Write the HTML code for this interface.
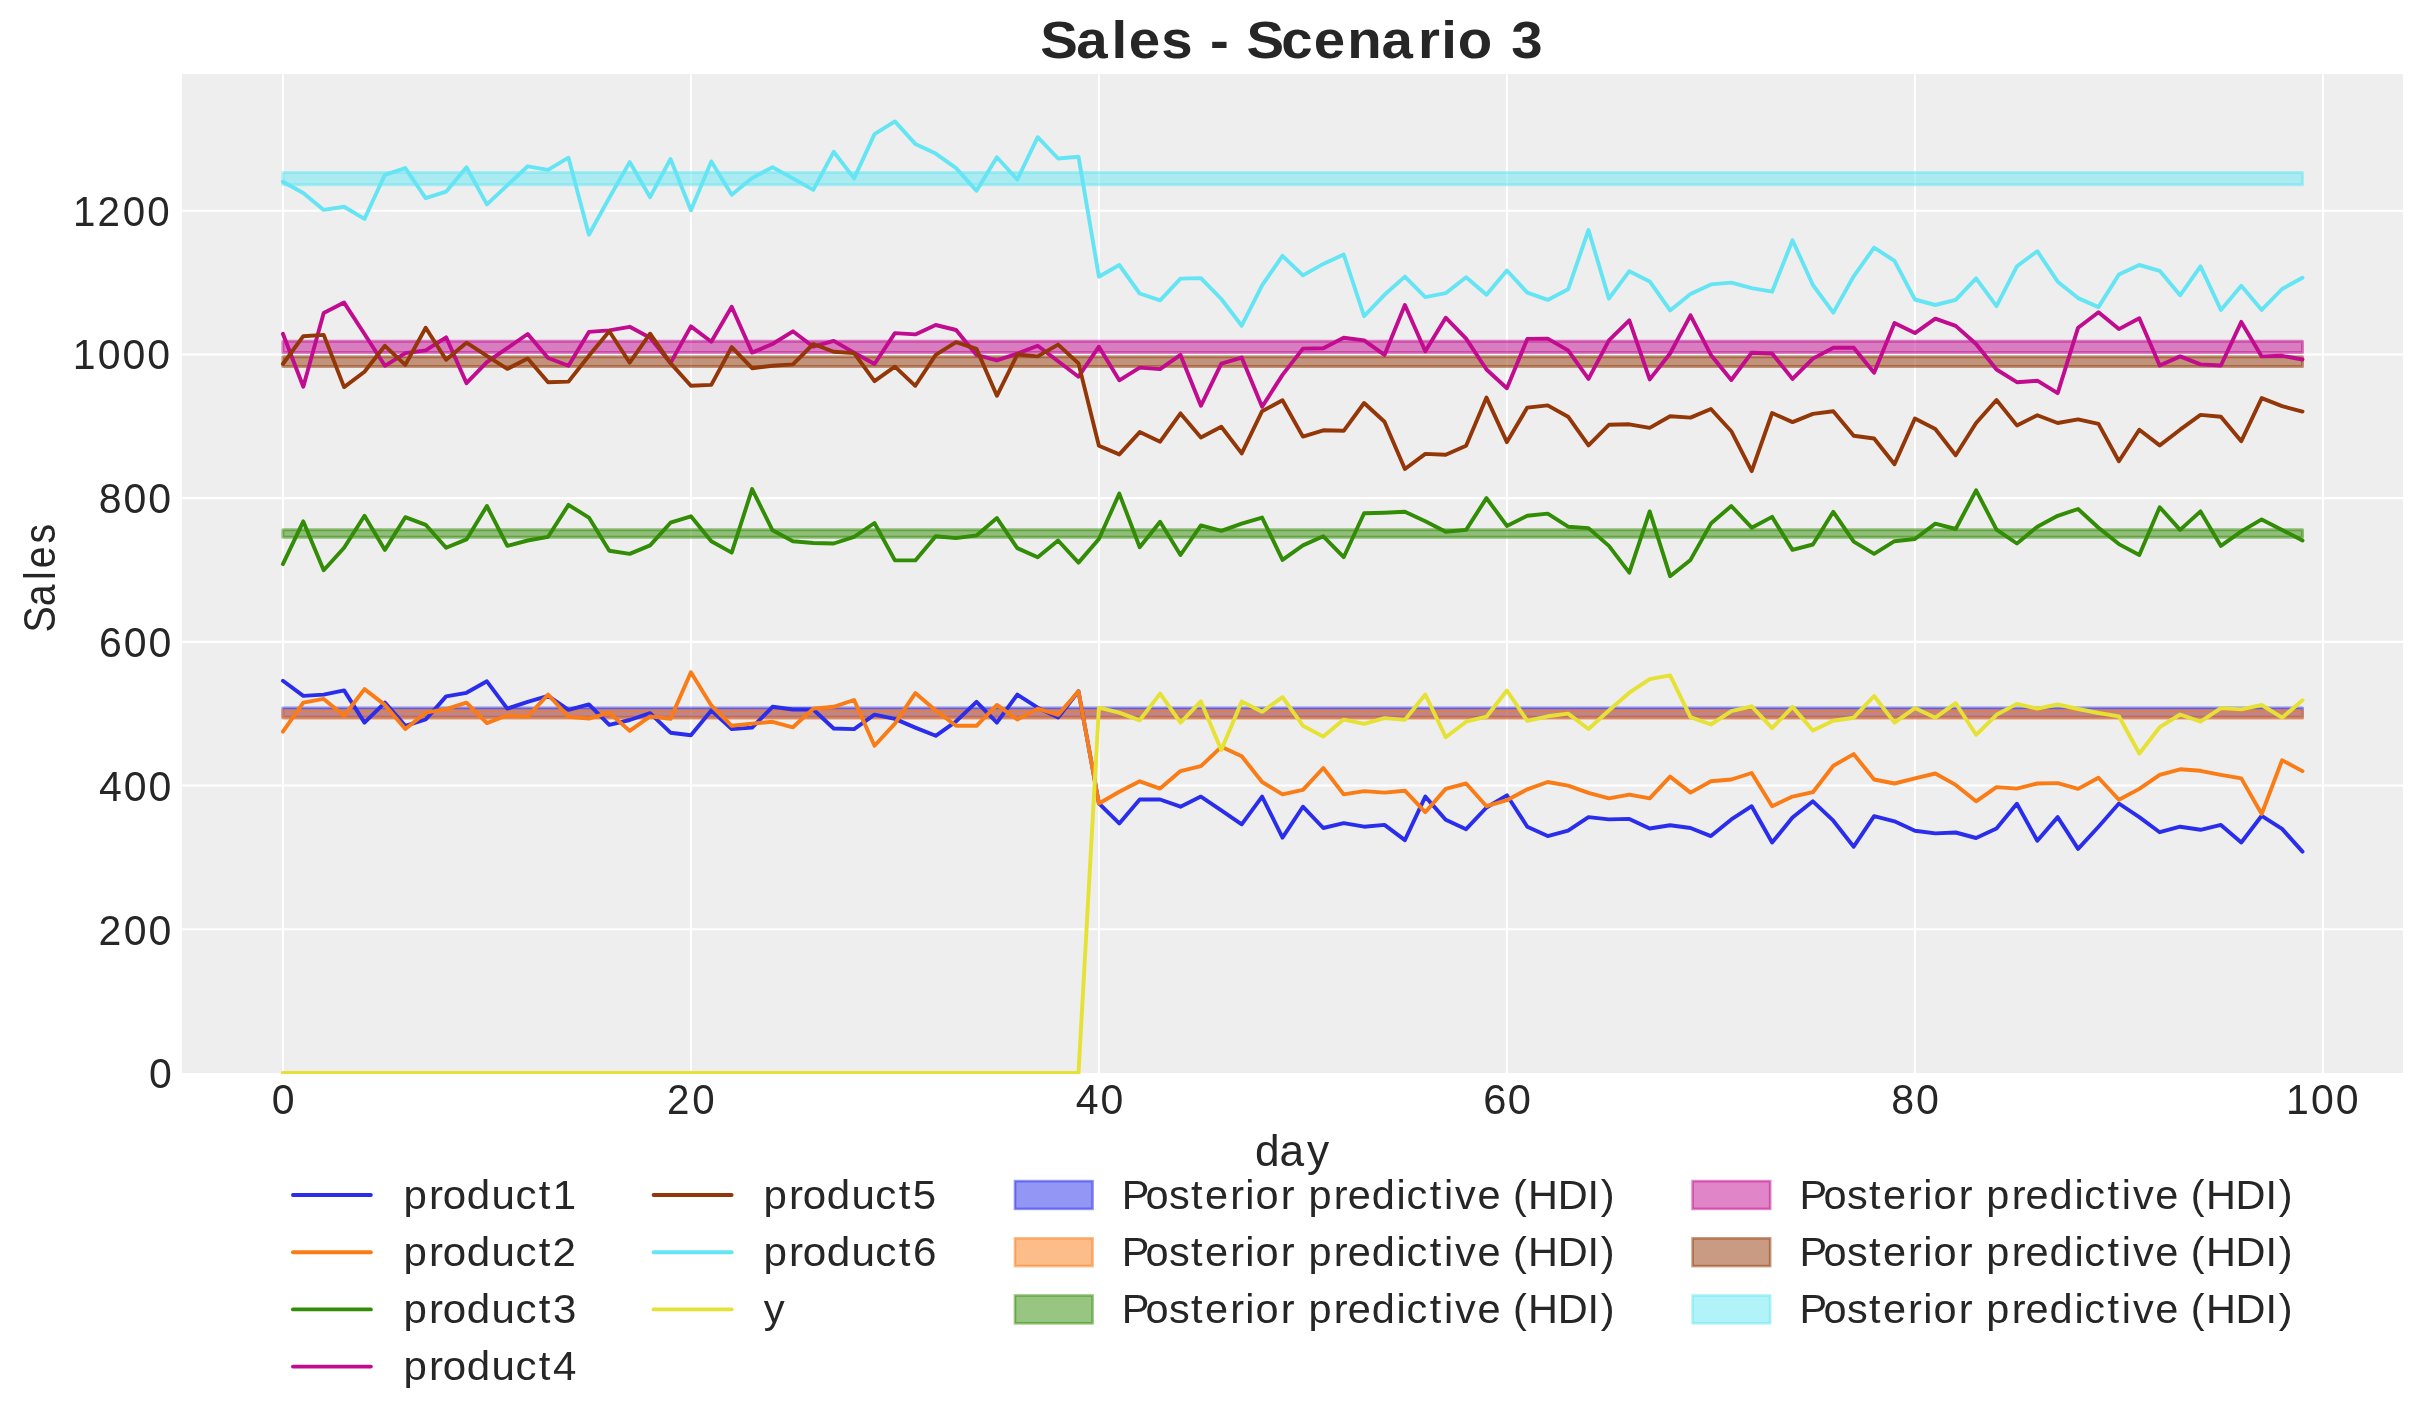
<!DOCTYPE html>
<html><head><meta charset="utf-8"><title>Sales - Scenario 3</title>
<style>html,body{margin:0;padding:0;background:#fff;}svg{display:block;will-change:transform;font-family:"Liberation Sans",sans-serif;}</style>
</head><body>
<svg width="2423" height="1424" viewBox="0 0 2423 1424">
<rect x="0" y="0" width="2423" height="1424" fill="#ffffff"/>
<rect x="182" y="74" width="2221" height="999" fill="#eeeeee"/>
<path d="M282.90 74V1073M690.90 74V1073M1098.90 74V1073M1506.90 74V1073M1914.90 74V1073M2322.90 74V1073M182 929.22H2403M182 785.53H2403M182 641.85H2403M182 498.16H2403M182 354.48H2403M182 210.80H2403" stroke="#ffffff" stroke-width="2.1" fill="none"/>
<path d="M282.90 708.1H2302.50V717.2H282.90Z" fill="#2a2eec" fill-opacity="0.5" stroke="#2a2eec" stroke-opacity="0.5" stroke-width="3.0" stroke-linejoin="round"/>
<path d="M282.90 710.55H2302.50V718.3H282.90Z" fill="#fa7c17" fill-opacity="0.5" stroke="#fa7c17" stroke-opacity="0.5" stroke-width="3.0" stroke-linejoin="round"/>
<path d="M282.90 529.65H2302.50V537.25H282.90Z" fill="#328c06" fill-opacity="0.5" stroke="#328c06" stroke-opacity="0.5" stroke-width="3.0" stroke-linejoin="round"/>
<path d="M282.90 341.3H2302.50V352.55H282.90Z" fill="#c10c90" fill-opacity="0.5" stroke="#c10c90" stroke-opacity="0.5" stroke-width="3.0" stroke-linejoin="round"/>
<path d="M282.90 356.65H2302.50V366.45H282.90Z" fill="#933708" fill-opacity="0.5" stroke="#933708" stroke-opacity="0.5" stroke-width="3.0" stroke-linejoin="round"/>
<path d="M282.90 172.55H2302.50V184.75H282.90Z" fill="#65e5f3" fill-opacity="0.5" stroke="#65e5f3" stroke-opacity="0.5" stroke-width="3.0" stroke-linejoin="round"/>
<clipPath id="ax"><rect x="182" y="74" width="2221" height="1000"/></clipPath>
<g clip-path="url(#ax)">
<polyline points="282.9,680.8 303.3,695.9 323.7,694.6 344.1,690.4 364.5,722.6 384.9,702.6 405.3,725.8 425.7,719.5 446.1,696.4 466.5,692.8 486.9,681.3 507.3,708.6 527.7,701.9 548.1,695.9 568.5,709.8 588.9,704.4 609.3,724.9 629.7,720.0 650.1,713.1 670.5,732.7 690.9,735.3 711.3,710.4 731.7,729.1 752.1,727.6 772.5,706.8 792.9,709.5 813.3,709.5 833.7,728.5 854.1,729.1 874.5,714.6 894.9,718.9 915.3,727.6 935.7,735.8 956.1,721.3 976.5,701.9 996.9,722.6 1017.3,694.6 1037.7,707.7 1058.1,717.6 1078.5,691.3 1098.9,803.3 1119.3,823.4 1139.7,799.5 1160.1,799.5 1180.5,806.7 1200.9,796.6 1221.3,810.4 1241.7,824.3 1262.1,796.6 1282.5,837.6 1302.9,806.7 1323.3,828.0 1343.7,823.1 1364.1,826.7 1384.5,824.9 1404.9,840.1 1425.3,796.6 1445.7,819.8 1466.1,829.2 1486.5,807.5 1506.9,795.3 1527.3,826.7 1547.7,836.1 1568.1,830.7 1588.5,817.1 1608.9,819.4 1629.3,818.9 1649.7,828.5 1670.1,825.3 1690.5,828.0 1710.9,836.1 1731.3,819.4 1751.7,806.2 1772.1,842.5 1792.5,817.6 1812.9,801.3 1833.3,820.7 1853.7,846.7 1874.1,816.2 1894.5,821.3 1914.9,830.7 1935.3,833.4 1955.7,832.5 1976.1,838.0 1996.5,828.5 2016.9,803.8 2037.3,840.7 2057.7,817.1 2078.1,848.9 2098.5,826.7 2118.9,803.5 2139.3,817.1 2159.7,832.2 2180.1,826.7 2200.5,829.8 2220.9,824.9 2241.3,842.5 2261.7,815.8 2282.1,828.9 2302.5,851.6" fill="none" stroke="#2a2eec" stroke-width="3.9" stroke-linejoin="round" stroke-linecap="round"/>
<polyline points="282.9,731.6 303.3,702.6 323.7,698.9 344.1,715.8 364.5,689.1 384.9,704.9 405.3,729.1 425.7,712.7 446.1,709.1 466.5,702.6 486.9,723.1 507.3,715.3 527.7,716.4 548.1,694.6 568.5,716.7 588.9,718.6 609.3,712.7 629.7,730.9 650.1,716.4 670.5,718.9 690.9,672.3 711.3,705.5 731.7,725.8 752.1,723.6 772.5,721.8 792.9,727.3 813.3,708.6 833.7,706.8 854.1,700.0 874.5,745.8 894.9,723.6 915.3,693.1 935.7,710.4 956.1,725.8 976.5,725.8 996.9,704.9 1017.3,719.5 1037.7,708.6 1058.1,714.9 1078.5,691.3 1098.9,803.5 1119.3,791.7 1139.7,781.3 1160.1,788.6 1180.5,771.1 1200.9,766.2 1221.3,746.8 1241.7,756.2 1262.1,782.0 1282.5,794.4 1302.9,789.8 1323.3,768.0 1343.7,794.4 1364.1,791.1 1384.5,792.6 1404.9,790.7 1425.3,812.2 1445.7,788.9 1466.1,783.5 1486.5,806.2 1506.9,800.2 1527.3,789.3 1547.7,782.0 1568.1,785.7 1588.5,792.9 1608.9,798.4 1629.3,794.7 1649.7,798.4 1670.1,776.6 1690.5,792.6 1710.9,781.3 1731.3,779.5 1751.7,773.0 1772.1,806.2 1792.5,796.6 1812.9,792.2 1833.3,765.7 1853.7,754.1 1874.1,779.5 1894.5,783.5 1914.9,778.4 1935.3,773.5 1955.7,784.9 1976.1,801.3 1996.5,787.1 2016.9,788.6 2037.3,783.5 2057.7,783.1 2078.1,788.9 2098.5,777.7 2118.9,799.8 2139.3,788.9 2159.7,774.8 2180.1,769.3 2200.5,770.8 2220.9,774.8 2241.3,778.4 2261.7,814.0 2282.1,760.2 2302.5,771.1" fill="none" stroke="#fa7c17" stroke-width="3.9" stroke-linejoin="round" stroke-linecap="round"/>
<polyline points="282.9,564.1 303.3,521.4 323.7,570.2 344.1,547.7 364.5,515.8 384.9,549.9 405.3,517.2 425.7,524.8 446.1,547.7 466.5,539.4 486.9,506.0 507.3,545.9 527.7,540.5 548.1,536.8 568.5,504.9 588.9,517.6 609.3,550.8 629.7,553.9 650.1,545.4 670.5,522.7 690.9,516.3 711.3,541.2 731.7,552.6 752.1,489.1 772.5,530.3 792.9,541.2 813.3,543.0 833.7,543.5 854.1,536.8 874.5,523.0 894.9,560.4 915.3,560.4 935.7,536.3 956.1,538.1 976.5,535.4 996.9,518.1 1017.3,548.1 1037.7,557.2 1058.1,540.5 1078.5,562.6 1098.9,539.0 1119.3,493.6 1139.7,547.2 1160.1,521.8 1180.5,555.0 1200.9,525.4 1221.3,530.8 1241.7,523.6 1262.1,517.6 1282.5,559.9 1302.9,545.4 1323.3,536.3 1343.7,557.2 1364.1,513.2 1384.5,512.7 1404.9,511.8 1425.3,521.2 1445.7,531.7 1466.1,529.9 1486.5,498.1 1506.9,525.9 1527.3,515.8 1547.7,513.6 1568.1,526.7 1588.5,528.1 1608.9,545.9 1629.3,572.6 1649.7,511.4 1670.1,576.2 1690.5,559.9 1710.9,523.6 1731.3,506.0 1751.7,527.7 1772.1,516.9 1792.5,549.9 1812.9,544.5 1833.3,511.8 1853.7,541.7 1874.1,553.9 1894.5,541.2 1914.9,539.0 1935.3,523.6 1955.7,529.0 1976.1,490.3 1996.5,529.6 2016.9,543.5 2037.3,526.7 2057.7,515.8 2078.1,509.0 2098.5,527.7 2118.9,544.1 2139.3,555.0 2159.7,507.2 2180.1,529.9 2200.5,511.4 2220.9,545.9 2241.3,531.4 2261.7,519.4 2282.1,529.9 2302.5,540.5" fill="none" stroke="#328c06" stroke-width="3.9" stroke-linejoin="round" stroke-linecap="round"/>
<polyline points="282.9,333.7 303.3,386.7 323.7,313.1 344.1,302.6 364.5,334.0 384.9,365.8 405.3,353.1 425.7,350.4 446.1,337.3 466.5,383.1 486.9,362.2 507.3,348.2 527.7,334.0 548.1,358.0 568.5,365.8 588.9,331.9 609.3,330.4 629.7,326.8 650.1,337.7 670.5,363.1 690.9,326.4 711.3,341.7 731.7,306.8 752.1,352.6 772.5,344.0 792.9,331.3 813.3,346.7 833.7,340.9 854.1,352.6 874.5,364.0 894.9,333.1 915.3,334.4 935.7,325.0 956.1,330.0 976.5,354.9 996.9,360.4 1017.3,353.6 1037.7,345.8 1058.1,361.3 1078.5,376.7 1098.9,346.7 1119.3,380.3 1139.7,367.6 1160.1,369.1 1180.5,354.9 1200.9,405.8 1221.3,363.6 1241.7,357.6 1262.1,406.7 1282.5,374.9 1302.9,348.6 1323.3,348.2 1343.7,337.7 1364.1,340.4 1384.5,354.9 1404.9,305.0 1425.3,351.3 1445.7,317.7 1466.1,338.6 1486.5,369.5 1506.9,388.2 1527.3,338.9 1547.7,338.6 1568.1,350.4 1588.5,378.9 1608.9,340.4 1629.3,320.4 1649.7,379.4 1670.1,353.5 1690.5,315.3 1710.9,354.9 1731.3,380.0 1751.7,352.7 1772.1,353.5 1792.5,378.9 1812.9,358.6 1833.3,347.7 1853.7,347.7 1874.1,372.7 1894.5,323.1 1914.9,333.1 1935.3,318.6 1955.7,325.9 1976.1,344.0 1996.5,369.5 2016.9,382.2 2037.3,380.7 2057.7,393.1 2078.1,327.7 2098.5,312.3 2118.9,329.1 2139.3,318.2 2159.7,365.5 2180.1,356.4 2200.5,364.4 2220.9,365.5 2241.3,321.9 2261.7,356.4 2282.1,355.8 2302.5,359.5" fill="none" stroke="#c10c90" stroke-width="3.9" stroke-linejoin="round" stroke-linecap="round"/>
<polyline points="282.9,364.0 303.3,336.2 323.7,334.9 344.1,387.1 364.5,371.8 384.9,345.8 405.3,364.9 425.7,327.7 446.1,359.8 466.5,342.7 486.9,355.8 507.3,368.9 527.7,358.5 548.1,382.2 568.5,381.6 588.9,355.8 609.3,331.3 629.7,362.7 650.1,333.7 670.5,363.1 690.9,385.8 711.3,384.9 731.7,347.1 752.1,368.2 772.5,365.8 792.9,364.4 813.3,344.0 833.7,351.8 854.1,353.1 874.5,381.2 894.9,366.7 915.3,385.8 935.7,354.9 956.1,342.2 976.5,348.9 996.9,395.8 1017.3,354.5 1037.7,356.4 1058.1,344.6 1078.5,363.4 1098.9,445.7 1119.3,454.4 1139.7,432.1 1160.1,441.7 1180.5,413.4 1200.9,437.5 1221.3,426.7 1241.7,453.4 1262.1,411.2 1282.5,400.3 1302.9,436.6 1323.3,430.3 1343.7,430.8 1364.1,403.0 1384.5,421.8 1404.9,469.0 1425.3,453.9 1445.7,454.8 1466.1,445.7 1486.5,397.6 1506.9,442.1 1527.3,407.6 1547.7,405.4 1568.1,416.7 1588.5,445.4 1608.9,424.8 1629.3,424.3 1649.7,427.9 1670.1,416.3 1690.5,417.6 1710.9,409.0 1731.3,431.2 1751.7,471.1 1772.1,413.0 1792.5,422.1 1812.9,413.9 1833.3,411.2 1853.7,435.7 1874.1,438.5 1894.5,464.2 1914.9,418.5 1935.3,429.0 1955.7,455.2 1976.1,423.0 1996.5,400.0 2016.9,425.4 2037.3,415.2 2057.7,423.0 2078.1,419.4 2098.5,423.9 2118.9,461.2 2139.3,429.7 2159.7,445.4 2180.1,429.7 2200.5,414.9 2220.9,416.7 2241.3,441.2 2261.7,398.1 2282.1,406.1 2302.5,411.6" fill="none" stroke="#933708" stroke-width="3.9" stroke-linejoin="round" stroke-linecap="round"/>
<polyline points="282.9,181.7 303.3,193.0 323.7,209.9 344.1,206.8 364.5,218.9 384.9,174.8 405.3,168.1 425.7,198.1 446.1,191.7 466.5,167.2 486.9,204.4 507.3,185.3 527.7,166.3 548.1,169.9 568.5,157.7 588.9,234.7 609.3,197.7 629.7,162.1 650.1,197.2 670.5,159.0 690.9,210.3 711.3,161.4 731.7,194.8 752.1,178.1 772.5,167.2 792.9,178.4 813.3,189.9 833.7,151.8 854.1,178.4 874.5,134.1 894.9,121.4 915.3,143.9 935.7,153.6 956.1,168.1 976.5,190.8 996.9,157.2 1017.3,179.5 1037.7,137.2 1058.1,158.5 1078.5,156.7 1098.9,276.7 1119.3,265.0 1139.7,293.5 1160.1,300.4 1180.5,278.6 1200.9,278.1 1221.3,299.0 1241.7,325.7 1262.1,285.3 1282.5,255.9 1302.9,275.4 1323.3,263.9 1343.7,254.5 1364.1,316.2 1384.5,294.8 1404.9,276.6 1425.3,297.2 1445.7,293.2 1466.1,277.2 1486.5,294.8 1506.9,270.5 1527.3,292.6 1547.7,299.9 1568.1,289.3 1588.5,230.0 1608.9,298.6 1629.3,271.2 1649.7,281.4 1670.1,310.4 1690.5,294.1 1710.9,284.4 1731.3,282.6 1751.7,288.1 1772.1,291.7 1792.5,240.3 1812.9,285.0 1833.3,312.6 1853.7,276.3 1874.1,247.6 1894.5,260.8 1914.9,299.5 1935.3,305.0 1955.7,299.9 1976.1,278.4 1996.5,306.2 2016.9,266.3 2037.3,251.2 2057.7,281.7 2078.1,298.1 2098.5,307.1 2118.9,274.5 2139.3,265.0 2159.7,270.8 2180.1,295.3 2200.5,266.3 2220.9,309.9 2241.3,285.7 2261.7,309.9 2282.1,289.0 2302.5,277.7" fill="none" stroke="#65e5f3" stroke-width="3.9" stroke-linejoin="round" stroke-linecap="round"/>
<polyline points="282.9,1073.0 303.3,1073.0 323.7,1073.0 344.1,1073.0 364.5,1073.0 384.9,1073.0 405.3,1073.0 425.7,1073.0 446.1,1073.0 466.5,1073.0 486.9,1073.0 507.3,1073.0 527.7,1073.0 548.1,1073.0 568.5,1073.0 588.9,1073.0 609.3,1073.0 629.7,1073.0 650.1,1073.0 670.5,1073.0 690.9,1073.0 711.3,1073.0 731.7,1073.0 752.1,1073.0 772.5,1073.0 792.9,1073.0 813.3,1073.0 833.7,1073.0 854.1,1073.0 874.5,1073.0 894.9,1073.0 915.3,1073.0 935.7,1073.0 956.1,1073.0 976.5,1073.0 996.9,1073.0 1017.3,1073.0 1037.7,1073.0 1058.1,1073.0 1078.5,1073.0 1098.9,707.6 1119.3,712.7 1139.7,720.3 1160.1,693.6 1180.5,722.6 1200.9,701.4 1221.3,749.9 1241.7,701.4 1262.1,711.8 1282.5,697.2 1302.9,725.7 1323.3,736.6 1343.7,719.6 1364.1,723.9 1384.5,718.1 1404.9,719.9 1425.3,694.5 1445.7,737.2 1466.1,721.7 1486.5,716.7 1506.9,690.5 1527.3,720.8 1547.7,716.3 1568.1,713.6 1588.5,729.0 1608.9,710.5 1629.3,692.7 1649.7,679.1 1670.1,675.4 1690.5,717.2 1710.9,724.5 1731.3,711.2 1751.7,706.3 1772.1,728.1 1792.5,706.9 1812.9,730.5 1833.3,720.8 1853.7,717.7 1874.1,696.0 1894.5,722.6 1914.9,708.1 1935.3,717.7 1955.7,703.2 1976.1,734.8 1996.5,714.8 2016.9,703.9 2037.3,708.7 2057.7,704.5 2078.1,709.0 2098.5,713.0 2118.9,716.3 2139.3,753.5 2159.7,727.2 2180.1,714.5 2200.5,721.7 2220.9,708.1 2241.3,709.4 2261.7,705.0 2282.1,717.7 2302.5,700.3" fill="none" stroke="#e6e135" stroke-width="3.9" stroke-linejoin="round" stroke-linecap="round"/>
</g>
<g fill="#262626" font-family="Liberation Sans, sans-serif">
<text transform="scale(1.0748 1)" x="967.94 1001.31 1034.07 1050.22 1080.39 1108.57 1125.70 1144.07 1159.73 1192.11 1222.24 1253.45 1285.34 1319.22 1341.04 1356.21 1388.26 1406.11" y="58.00" font-size="52.50" font-weight="bold">Sales - Scenario 3</text>
<text transform="scale(0.9594 1)" x="76.10 101.56 127.82 153.60" y="225.80" font-size="42.00">1200</text>
<text transform="scale(0.9770 1)" x="74.51 100.00 125.32 150.63" y="369.30" font-size="42.00">1000</text>
<text transform="scale(0.9770 1)" x="101.18 126.44 151.76" y="513.30" font-size="42.00">800</text>
<text transform="scale(0.9770 1)" x="101.37 126.65 151.96" y="656.90" font-size="42.00">600</text>
<text transform="scale(0.9770 1)" x="101.35 126.65 151.96" y="800.90" font-size="42.00">400</text>
<text transform="scale(0.9770 1)" x="100.86 126.65 151.96" y="944.70" font-size="42.00">200</text>
<text transform="scale(0.9770 1)" x="152.48" y="1088.10" font-size="42.00">0</text>
<text transform="scale(0.9770 1)" x="278.17" y="1113.60" font-size="42.00">0</text>
<text transform="scale(0.9594 1)" x="695.20 721.46" y="1113.60" font-size="42.00">20</text>
<text transform="scale(0.9751 1)" x="1103.29 1128.64" y="1113.60" font-size="42.00">40</text>
<text transform="scale(0.9920 1)" x="1495.12 1520.02" y="1113.60" font-size="42.00">60</text>
<text transform="scale(0.9808 1)" x="1928.37 1953.53" y="1113.60" font-size="42.00">80</text>
<text transform="scale(0.9770 1)" x="2339.89 2365.38 2390.69" y="1113.60" font-size="42.00">100</text>
<text transform="scale(1.0051 1)" x="1248.71 1272.96 1300.37" y="1165.70" font-size="44.00">day</text>
<text transform="translate(54.9 1155.16) rotate(-90) scale(0.8929 1)" x="585.42 614.69 644.17 657.45 685.08" y="0.00" font-size="44.00">Sales</text>
</g>
<path d="M292.95 1195.0H370.85" stroke="#2a2eec" stroke-width="3.9" stroke-linecap="round"/>
<path d="M292.95 1252.2H370.85" stroke="#fa7c17" stroke-width="3.9" stroke-linecap="round"/>
<path d="M292.95 1309.4H370.85" stroke="#328c06" stroke-width="3.9" stroke-linecap="round"/>
<path d="M292.95 1366.6H370.85" stroke="#c10c90" stroke-width="3.9" stroke-linecap="round"/>
<path d="M653.6 1195.0H731.6" stroke="#933708" stroke-width="3.9" stroke-linecap="round"/>
<path d="M653.6 1252.2H731.6" stroke="#65e5f3" stroke-width="3.9" stroke-linecap="round"/>
<path d="M653.6 1309.4H731.6" stroke="#e6e135" stroke-width="3.9" stroke-linecap="round"/>
<rect x="1015.00" y="1181.10" width="77.60" height="27.80" fill="#2a2eec" fill-opacity="0.5" stroke="#2a2eec" stroke-opacity="0.5" stroke-width="2.6"/>
<rect x="1015.00" y="1238.30" width="77.60" height="27.80" fill="#fa7c17" fill-opacity="0.5" stroke="#fa7c17" stroke-opacity="0.5" stroke-width="2.6"/>
<rect x="1015.00" y="1295.50" width="77.60" height="27.80" fill="#328c06" fill-opacity="0.5" stroke="#328c06" stroke-opacity="0.5" stroke-width="2.6"/>
<rect x="1692.60" y="1181.10" width="77.60" height="27.80" fill="#c10c90" fill-opacity="0.5" stroke="#c10c90" stroke-opacity="0.5" stroke-width="2.6"/>
<rect x="1692.60" y="1238.30" width="77.60" height="27.80" fill="#933708" fill-opacity="0.5" stroke="#933708" stroke-opacity="0.5" stroke-width="2.6"/>
<rect x="1692.60" y="1295.50" width="77.60" height="27.80" fill="#65e5f3" fill-opacity="0.5" stroke="#65e5f3" stroke-opacity="0.5" stroke-width="2.6"/>
<g fill="#262626" font-family="Liberation Sans, sans-serif">
<text transform="scale(1.0224 1)" x="394.77 419.71 433.03 456.50 480.78 504.09 526.91 540.61" y="1208.85" font-size="41.15">product1</text>
<text transform="scale(1.0224 1)" x="394.77 419.71 433.03 456.50 480.78 504.09 526.91 540.34" y="1266.05" font-size="41.15">product2</text>
<text transform="scale(1.0224 1)" x="394.77 419.71 433.03 456.50 480.78 504.09 526.91 540.89" y="1323.25" font-size="41.15">product3</text>
<text transform="scale(1.0224 1)" x="394.77 419.71 433.03 456.50 480.78 504.09 526.91 540.82" y="1380.45" font-size="41.15">product4</text>
<text transform="scale(1.0224 1)" x="746.88 771.82 785.14 808.62 832.89 856.20 879.03 892.78" y="1208.85" font-size="41.15">product5</text>
<text transform="scale(1.0266 1)" x="743.78 768.64 781.89 805.27 829.44 852.66 875.41 889.25" y="1266.05" font-size="41.15">product6</text>
<text transform="scale(1.0157 1)" x="751.99" y="1323.25" font-size="41.15">y</text>
<text transform="scale(1.0069 1)" x="1114.04 1137.78 1161.09 1182.94 1196.80 1221.84 1236.74 1247.01 1272.06 1286.16 1299.45 1324.71 1338.44 1362.26 1387.01 1396.82 1419.93 1434.10 1445.16 1467.37 1490.63 1502.58 1517.62 1547.04 1576.72 1589.83" y="1208.85" font-size="41.15">Posterior predictive (HDI)</text>
<text transform="scale(1.0069 1)" x="1787.26 1811.01 1834.31 1856.16 1870.03 1895.06 1909.96 1920.24 1945.28 1959.38 1972.67 1997.94 2011.66 2035.48 2060.23 2070.05 2093.15 2107.32 2118.39 2140.59 2163.85 2175.80 2190.84 2220.26 2249.94 2263.05" y="1208.85" font-size="41.15">Posterior predictive (HDI)</text>
<text transform="scale(1.0069 1)" x="1114.04 1137.78 1161.09 1182.94 1196.80 1221.84 1236.74 1247.01 1272.06 1286.16 1299.45 1324.71 1338.44 1362.26 1387.01 1396.82 1419.93 1434.10 1445.16 1467.37 1490.63 1502.58 1517.62 1547.04 1576.72 1589.83" y="1266.05" font-size="41.15">Posterior predictive (HDI)</text>
<text transform="scale(1.0069 1)" x="1787.26 1811.01 1834.31 1856.16 1870.03 1895.06 1909.96 1920.24 1945.28 1959.38 1972.67 1997.94 2011.66 2035.48 2060.23 2070.05 2093.15 2107.32 2118.39 2140.59 2163.85 2175.80 2190.84 2220.26 2249.94 2263.05" y="1266.05" font-size="41.15">Posterior predictive (HDI)</text>
<text transform="scale(1.0069 1)" x="1114.04 1137.78 1161.09 1182.94 1196.80 1221.84 1236.74 1247.01 1272.06 1286.16 1299.45 1324.71 1338.44 1362.26 1387.01 1396.82 1419.93 1434.10 1445.16 1467.37 1490.63 1502.58 1517.62 1547.04 1576.72 1589.83" y="1323.25" font-size="41.15">Posterior predictive (HDI)</text>
<text transform="scale(1.0069 1)" x="1787.26 1811.01 1834.31 1856.16 1870.03 1895.06 1909.96 1920.24 1945.28 1959.38 1972.67 1997.94 2011.66 2035.48 2060.23 2070.05 2093.15 2107.32 2118.39 2140.59 2163.85 2175.80 2190.84 2220.26 2249.94 2263.05" y="1323.25" font-size="41.15">Posterior predictive (HDI)</text>
</g>
</svg>
</body></html>
